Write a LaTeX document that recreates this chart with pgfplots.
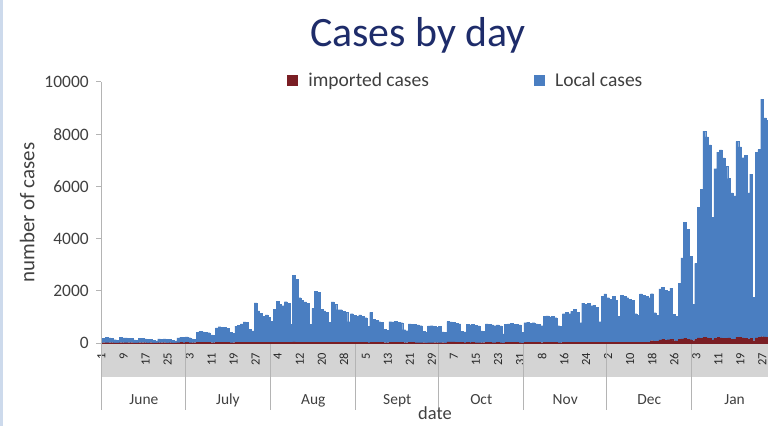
\documentclass[border=0pt]{standalone}
\usepackage{fontspec}
\setmainfont{Carlito}
\usepackage{pgfplots}
\usepackage{pgfplotstable}
\pgfplotsset{compat=1.18}
\definecolor{locblue}{RGB}{74,126,193}
\definecolor{impred}{RGB}{122,30,36}
\definecolor{titlenavy}{RGB}{30,44,106}
\definecolor{bandgray}{RGB}{212,212,212}
\definecolor{sepgray}{RGB}{180,180,180}
\definecolor{txtgray}{RGB}{64,64,64}
\definecolor{edgeblue}{RGB}{205,218,236}

\pgfplotstableread[row sep=\\]{
i imp loc\\
0 10 180\\ 1 15 200\\ 2 10 190\\ 3 12 170\\ 4 8 120\\ 5 6 100\\
6 12 210\\ 7 10 190\\ 8 14 180\\ 9 10 170\\ 10 12 160\\ 11 6 110\\ 12 5 90\\
13 10 170\\ 14 12 160\\ 15 10 150\\ 16 8 140\\ 17 10 130\\ 18 6 90\\ 19 5 80\\
20 10 150\\ 21 12 140\\ 22 10 150\\ 23 8 130\\ 24 10 120\\ 25 5 90\\ 26 6 80\\
27 14 180\\ 28 16 200\\ 29 15 210\\ 30 18 220\\ 31 14 190\\ 32 10 150\\ 33 10 140\\
34 20 380\\ 35 22 420\\ 36 18 410\\ 37 20 400\\ 38 16 380\\ 39 12 300\\ 40 10 280\\
41 22 560\\ 42 25 600\\ 43 20 580\\ 44 22 570\\ 45 18 540\\ 46 14 400\\ 47 12 350\\
48 24 620\\ 49 26 640\\ 50 30 700\\ 51 28 780\\ 52 26 760\\ 53 18 500\\ 54 16 450\\
55 35 1500\\ 56 30 1200\\ 57 28 1100\\ 58 32 1000\\ 59 30 1050\\ 60 25 950\\ 61 20 800\\
62 30 1250\\ 63 35 1550\\ 64 32 1450\\ 65 30 1400\\ 66 34 1550\\ 67 32 1500\\ 68 20 700\\
69 40 2550\\ 70 38 2400\\ 71 34 1700\\ 72 32 1600\\ 73 30 1550\\ 74 28 1500\\ 75 18 700\\
76 30 1300\\ 77 36 1950\\ 78 34 1900\\ 79 30 1250\\ 80 28 1200\\ 81 26 1150\\ 82 18 780\\
83 30 1550\\ 84 28 1450\\ 85 26 1250\\ 86 26 1250\\ 87 24 1200\\ 88 22 1150\\ 89 16 800\\
90 24 1100\\ 91 22 1050\\ 92 22 1000\\ 93 24 1050\\ 94 22 1000\\ 95 20 950\\ 96 14 620\\
97 24 1150\\ 98 20 880\\ 99 20 850\\ 100 18 800\\ 101 18 780\\ 102 12 520\\ 103 10 480\\
104 18 800\\ 105 18 790\\ 106 20 810\\ 107 18 780\\ 108 16 760\\ 109 10 500\\ 110 10 460\\
111 16 720\\ 112 16 700\\ 113 14 690\\ 114 14 680\\ 115 14 650\\ 116 10 430\\ 117 8 400\\
118 14 640\\ 119 14 650\\ 120 12 620\\ 121 12 600\\ 122 14 630\\ 123 10 420\\ 124 8 400\\
125 40 780\\ 126 45 760\\ 127 40 740\\ 128 35 720\\ 129 30 700\\ 130 20 430\\ 131 15 410\\
132 16 700\\ 133 15 680\\ 134 16 690\\ 135 14 660\\ 136 14 640\\ 137 10 450\\ 138 10 430\\
139 16 720\\ 140 16 700\\ 141 14 680\\ 142 14 650\\ 143 16 680\\ 144 14 640\\ 145 8 340\\
146 16 700\\ 147 16 720\\ 148 18 740\\ 149 16 710\\ 150 16 700\\ 151 14 680\\ 152 8 400\\
153 18 760\\ 154 18 780\\ 155 16 740\\ 156 18 760\\ 157 16 720\\ 158 16 700\\ 159 12 650\\
160 22 1000\\ 161 22 1020\\ 162 20 980\\ 163 22 1000\\ 164 20 950\\ 165 14 650\\ 166 12 620\\
167 24 1100\\ 168 26 1150\\ 169 24 1100\\ 170 26 1200\\ 171 28 1260\\ 172 26 1150\\ 173 16 760\\
174 30 1500\\ 175 30 1450\\ 176 32 1480\\ 177 30 1400\\ 178 30 1420\\ 179 28 1350\\ 180 18 800\\
181 34 1750\\ 182 36 1850\\ 183 34 1700\\ 184 32 1650\\ 185 34 1750\\ 186 30 1600\\ 187 20 1000\\
188 36 1800\\ 189 34 1750\\ 190 34 1700\\ 191 32 1650\\ 192 30 1600\\ 193 22 1100\\ 194 20 1050\\
195 36 1850\\ 196 36 1800\\ 197 34 1750\\ 198 34 1700\\ 199 90 1800\\ 200 60 1100\\ 201 70 1000\\
202 120 1950\\ 203 140 2000\\ 204 110 1900\\ 205 130 1850\\ 206 150 1950\\ 207 90 1000\\ 208 80 950\\
209 140 2150\\ 210 160 3100\\ 211 180 4450\\ 212 150 4200\\ 213 130 3200\\ 214 90 1400\\ 215 150 2900\\
216 200 5000\\ 217 180 5700\\ 218 220 7900\\ 219 200 7700\\ 220 190 7400\\ 221 120 4700\\ 222 180 6500\\
223 210 7100\\ 224 200 7200\\ 225 190 6900\\ 226 180 6600\\ 227 200 6100\\ 228 150 5600\\ 229 140 5500\\
230 220 7500\\ 231 210 7300\\ 232 200 6900\\ 233 190 7000\\ 234 150 5600\\ 235 170 6300\\ 236 90 1650\\
237 200 7100\\ 238 210 7200\\ 239 240 9100\\ 240 230 8400\\ 241 220 8300\\
}\casedata

\begin{document}
\begin{tikzpicture}
\useasboundingbox (0,0) rectangle (768bp,426bp);
\clip (0,0) rectangle (768bp,426bp);
\fill[white] (0,0) rectangle (768bp,426bp);
\fill[bandgray] (101.2bp,49bp) rectangle (768bp,83bp);
\draw[edgeblue, line width=2.5bp] (1.25bp,0) -- (1.25bp,426bp);
\begin{axis}[
  at={(101.2bp,83bp)}, anchor=south west, scale only axis,
  width=667.8bp, height=261bp,
  xmin=-1, xmax=241.5, ymin=0, ymax=10000,
  ybar stacked, bar width=1,
  axis x line=bottom, axis y line=left,
  axis line style={-, draw=sepgray, line width=1bp},
  clip=false,
  scaled y ticks=false,
  xtick={0,8,...,240},
  xticklabels={1,9,17,25,3,11,19,27,4,12,20,28,5,13,21,29,7,15,23,31,8,16,24,2,10,18,26,3,11,19,27},
  xticklabel style={xshift=-2.5bp, yshift=-4bp, rotate=90, anchor=east, font=\fontsize{12.5}{12.5}\selectfont, text=black!85, inner xsep=1bp, inner ysep=0.5bp},
  xtick style={draw=none},
  ytick={0,2000,...,10000},
  yticklabels={0,2000,4000,6000,8000,10000},
  yticklabel style={font=\fontsize{17.5}{17.5}\selectfont, text=txtgray, xshift=-4bp},
  ytick style={draw=sepgray, line width=1bp},
  tick align=outside, major tick length=5bp,
  title={Cases by day},
  title style={at={(axis description cs:0.4744,1.115)}, anchor=base, font=\fontsize{42}{42}\selectfont, text=titlenavy},
  xlabel={date},
  every axis x label/.style={at={(axis description cs:0.4998,-0.2950)}, anchor=base, font=\fontsize{18.5}{18.5}\selectfont, text=txtgray, inner sep=1bp},
  ylabel={number of cases},
  every axis y label/.style={at={(axis description cs:-0.1107,0.5)}, rotate=90, anchor=center, font=\fontsize{21}{21}\selectfont, text=txtgray},
  legend style={at={(axis description cs:0.2783,1.0077)}, anchor=west, draw=none, fill=none, legend columns=2, font=\fontsize{19.6}{19.6}\selectfont, text=txtgray, inner sep=0pt, /tikz/every even column/.append style={column sep=103bp}},
  sqlegend/.style={legend image code/.code={\fill[##1] (0bp,-5bp) rectangle (10bp,5bp); \path[draw=none,fill=none] (0bp,-1bp) rectangle (19bp,1bp);}},
]
\addplot[fill=impred, draw=impred, line width=0.2bp, sqlegend] table[x=i,y=imp]{\casedata};
\addlegendentry{imported cases}
\addplot[fill=locblue, draw=locblue, line width=0.3bp, sqlegend] table[x=i,y=loc]{\casedata};
\addlegendentry{Local cases}
\draw[sepgray, line width=1bp] (axis cs:-1,0) -- ([yshift=-67bp]axis cs:-1,0);
\draw[sepgray, line width=1bp] (axis cs:29.5,0) -- ([yshift=-67bp]axis cs:29.5,0);
\draw[sepgray, line width=1bp] (axis cs:60.5,0) -- ([yshift=-67bp]axis cs:60.5,0);
\draw[sepgray, line width=1bp] (axis cs:91.5,0) -- ([yshift=-67bp]axis cs:91.5,0);
\draw[sepgray, line width=1bp] (axis cs:121.5,0) -- ([yshift=-67bp]axis cs:121.5,0);
\draw[sepgray, line width=1bp] (axis cs:152.5,0) -- ([yshift=-67bp]axis cs:152.5,0);
\draw[sepgray, line width=1bp] (axis cs:182.5,0) -- ([yshift=-67bp]axis cs:182.5,0);
\draw[sepgray, line width=1bp] (axis cs:213.5,0) -- ([yshift=-67bp]axis cs:213.5,0);
\node[anchor=base, font=\fontsize{15.5}{15.5}\selectfont, text=txtgray] at ([yshift=-61bp]axis cs:14.5,0) {June};
\node[anchor=base, font=\fontsize{15.5}{15.5}\selectfont, text=txtgray] at ([yshift=-61bp]axis cs:45,0) {July};
\node[anchor=base, font=\fontsize{15.5}{15.5}\selectfont, text=txtgray] at ([yshift=-61bp]axis cs:76,0) {Aug};
\node[anchor=base, font=\fontsize{15.5}{15.5}\selectfont, text=txtgray] at ([yshift=-61bp]axis cs:106.5,0) {Sept};
\node[anchor=base, font=\fontsize{15.5}{15.5}\selectfont, text=txtgray] at ([yshift=-61bp]axis cs:137,0) {Oct};
\node[anchor=base, font=\fontsize{15.5}{15.5}\selectfont, text=txtgray] at ([yshift=-61bp]axis cs:167.5,0) {Nov};
\node[anchor=base, font=\fontsize{15.5}{15.5}\selectfont, text=txtgray] at ([yshift=-61bp]axis cs:198,0) {Dec};
\node[anchor=base, font=\fontsize{15.5}{15.5}\selectfont, text=txtgray] at ([yshift=-61bp]axis cs:229,0) {Jan};
\end{axis}
\end{tikzpicture}
\end{document}
